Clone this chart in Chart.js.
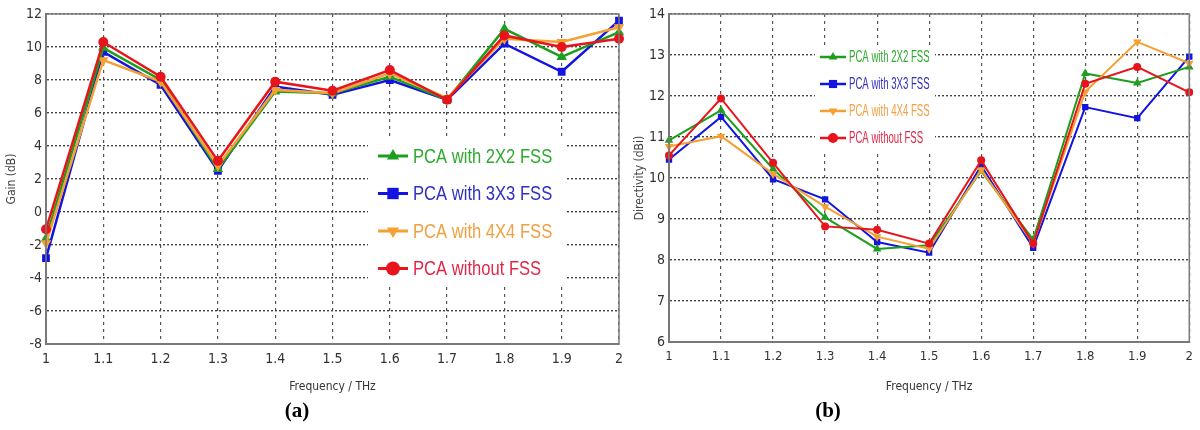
<!DOCTYPE html>
<html>
<head>
<meta charset="utf-8">
<script src="https://cdn.jsdelivr.net/npm/chart.js@4/dist/chart.umd.min.js"></script>
<style>
  html, body { margin: 0; padding: 0; background: #fff; }
  body { width: 1200px; height: 430px; position: relative; overflow: hidden; }
  #wa { position: absolute; left: 0; top: 0; width: 630px; height: 400px; }
  #wb { position: absolute; left: 630px; top: 0; width: 570px; height: 400px; }
  .lab { position: absolute; top: 398px; font: bold 21px 'Liberation Serif', 'Times New Roman', serif; color: #000; transform: translateX(-50%); }
</style>
</head>
<body>
<div id="wa"><canvas id="ca" width="630" height="400"></canvas></div>
<div id="wb"><canvas id="cb" width="570" height="400"></canvas></div>
<div class="lab" style="left:297px">(a)</div>
<div class="lab" style="left:828px">(b)</div>
<script>
// ---- data ----
const freqLabels = ['1', '1.1', '1.2', '1.3', '1.4', '1.5', '1.6', '1.7', '1.8', '1.9', '2'];
const seriesNames = ['PCA with 2X2 FSS', 'PCA with 3X3 FSS', 'PCA with 4X4 FSS', 'PCA without FSS'];

const gain2x2 = [-1.6, 9.95, 8.0, 2.6, 7.3, 7.2, 8.2, 6.8, 11.1, 9.4, 10.9];
const gain3x3 = [-2.8, 9.7, 7.7, 2.5, 7.6, 7.1, 8.0, 6.8, 10.2, 8.5, 11.6];
const gain4x4 = [-1.9, 9.2, 7.9, 2.8, 7.4, 7.2, 8.4, 6.9, 10.5, 10.3, 11.2];
const gainNone = [-1.05, 10.3, 8.2, 3.1, 7.9, 7.35, 8.6, 6.8, 10.7, 10.0, 10.5];

const dir2x2 = [10.92, 11.65, 10.22, 9.04, 8.27, 8.36, 10.17, 8.5, 12.55, 12.32, 12.71];
const dir3x3 = [10.45, 11.49, 9.97, 9.48, 8.44, 8.18, 10.3, 8.3, 11.73, 11.46, 12.96];
const dir4x4 = [10.77, 11.02, 10.1, 9.3, 8.57, 8.27, 10.2, 8.4, 12.1, 13.32, 12.8];
const dirNone = [10.55, 11.94, 10.37, 8.82, 8.74, 8.4, 10.43, 8.4, 12.3, 12.71, 12.09];

const gainTickRange = { min: -8, max: 12, step: 2 };
const dirTickRange = { min: 6, max: 14, step: 1 };

// ---- styles ----
const lineColors = ['#1e9e1e', '#1414e0', '#f5a033', '#e8141c'];
const textColors = ['#2eaa2e', '#3030c0', '#f0a040', '#e02848'];
const pointStyles = ['triangle', 'rect', 'triangle', 'circle'];
const pointRots = [0, 0, 180, 0];
const drawOrder = [2, 3, 1, 0];
const tickFont = "'Liberation Sans Narrow', 'DejaVu Sans Condensed', 'Liberation Sans', sans-serif";

function drawMarker(ctx, style, rot, x, y, r) {
  ctx.beginPath();
  if (style === 'circle') {
    ctx.arc(x, y, r, 0, Math.PI * 2);
  } else if (style === 'rect') {
    const s = r * Math.SQRT1_2 * 1.15;
    ctx.rect(x - s, y - s, 2 * s, 2 * s);
  } else {
    const a0 = (rot - 90) * Math.PI / 180;
    for (let i = 0; i < 3; i++) {
      const a = a0 + i * 2 * Math.PI / 3;
      const px = x + Math.cos(a) * r, py = y + Math.sin(a) * r;
      if (i === 0) ctx.moveTo(px, py); else ctx.lineTo(px, py);
    }
    ctx.closePath();
  }
  ctx.fill();
}

const framePlugin = {
  id: 'frameLegend',
  afterDatasetsDraw(chart, args, opts) {
    const ctx = chart.ctx, ca = chart.chartArea;
    ctx.save();
    const L = opts;
    ctx.fillStyle = '#fff';
    ctx.fillRect(L.box[0], L.box[1], L.box[2], L.box[3]);
    chart.data.datasets.forEach((ds, i) => {
      const y = L.y0 + i * L.dy;
      ctx.strokeStyle = ds.borderColor;
      ctx.fillStyle = ds.borderColor;
      ctx.lineWidth = L.lw;
      ctx.beginPath();
      ctx.moveTo(L.x, y);
      ctx.lineTo(L.x + L.len, y);
      ctx.stroke();
      drawMarker(ctx, ds.pointStyle, ds.pointRotation || 0, L.x + L.len / 2, y, L.r);
      ctx.save();
      ctx.translate(L.x + L.len + L.gap, y);
      ctx.scale(L.sx, 1);
      ctx.font = L.font;
      ctx.fillStyle = ds.legendTextColor;
      ctx.textBaseline = 'middle';
      ctx.textAlign = 'left';
      ctx.fillText(ds.label, 0, 1);
      ctx.restore();
    });
    ctx.strokeStyle = '#7a7a7a';
    ctx.lineWidth = 1.5;
    ctx.strokeRect(ca.left, ca.top, ca.right - ca.left, ca.bottom - ca.top);
    ctx.restore();
  }
};

function makeDatasets(arrs, lw, pr) {
  return arrs.map((d, i) => ({
    label: seriesNames[i],
    data: d,
    borderColor: lineColors[i],
    backgroundColor: lineColors[i],
    pointBackgroundColor: lineColors[i],
    pointBorderColor: lineColors[i],
    pointStyle: pointStyles[i],
    pointRotation: pointRots[i],
    pointRadius: pr[i],
    pointBorderWidth: 0,
    borderWidth: lw,
    tension: 0,
    order: drawOrder[i],
    legendTextColor: textColors[i]
  }));
}

function makeChart(id, arrs, range, cfg) {
  return new Chart(document.getElementById(id), {
    type: 'line',
    data: { labels: freqLabels, datasets: makeDatasets(arrs, cfg.lw, cfg.pr) },
    plugins: [framePlugin],
    options: {
      responsive: false,
      animation: false,
      layout: { padding: { top: 14, right: cfg.padRight, left: 0, bottom: 0 } },
      plugins: { legend: { display: false }, tooltip: { enabled: false }, frameLegend: cfg.legend },
      scales: {
        x: {
          type: 'category',
          offset: false,
          afterFit: s => { s.height = cfg.xh; },
          grid: { color: '#555', lineWidth: 1.2, drawTicks: false },
          border: { color: '#7a7a7a', width: 2, dash: [3, 4] },
          ticks: { color: '#333', padding: 7, font: { family: tickFont, size: cfg.xfs }, maxRotation: 0, autoSkip: false },
          title: { display: true, text: 'Frequency / THz', color: '#333', font: { family: tickFont, size: 12 }, padding: { top: 0, bottom: 6 } }
        },
        y: {
          min: range.min, max: range.max,
          afterFit: s => { s.width = cfg.yw; },
          grid: { color: '#444', lineWidth: 1.4, drawTicks: false },
          border: { color: '#7a7a7a', width: 2, dash: [2, 2] },
          ticks: { stepSize: range.step, color: '#333', padding: 4, font: { family: tickFont, size: cfg.yfs } },
          title: { display: true, text: cfg.ytitle, color: '#444', font: { family: tickFont, size: 12 }, padding: { top: cfg.ytp, bottom: 0 } }
        }
      }
    }
  });
}

makeChart('ca', [gain2x2, gain3x3, gain4x4, gainNone], gainTickRange, {
  lw: 2.5, pr: [6, 5.5, 6, 5], padRight: 11, xh: 56, yw: 46, xfs: 14, yfs: 14, ytitle: 'Gain (dB)', ytp: 5,
  legend: { box: [368, 138, 197, 148], x: 378, len: 30, gap: 5, y0: 156, dy: 37.5, r: 7, lw: 3,
            font: "21px 'Liberation Sans', sans-serif", sx: 0.79 }
});
makeChart('cb', [dir2x2, dir3x3, dir4x4, dirNone], dirTickRange, {
  lw: 2, pr: [5, 4.5, 5, 4], padRight: 5, xh: 58, yw: 39, xfs: 13, yfs: 14, ytitle: 'Directivity (dBi)', ytp: 3,
  legend: { box: [185, 45, 120, 105], x: 190, len: 26, gap: 3, y0: 57, dy: 27, r: 5, lw: 2.5,
            font: "16px 'Liberation Sans', sans-serif", sx: 0.6 }
});
</script>
</body>
</html>
